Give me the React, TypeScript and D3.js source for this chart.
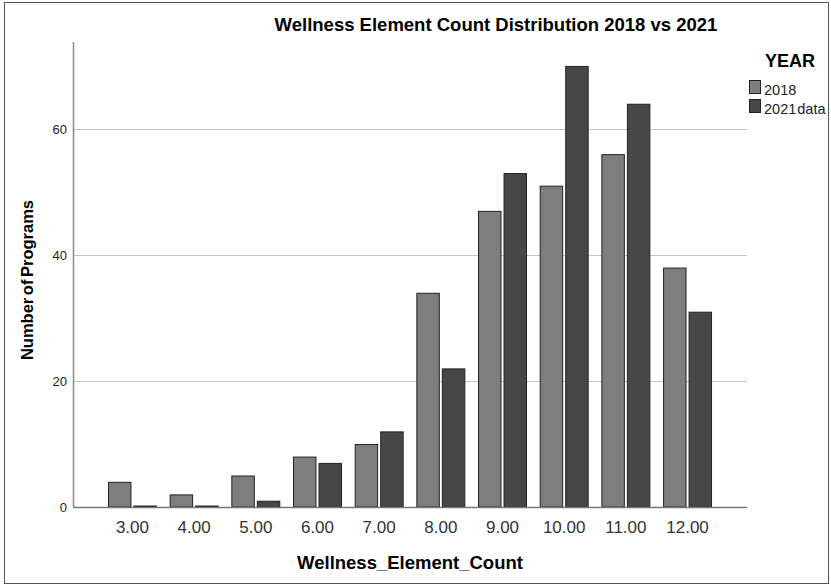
import React from "react";
import * as d3 from "d3";

const categories = ["3.00", "4.00", "5.00", "6.00", "7.00", "8.00", "9.00", "10.00", "11.00", "12.00"];
const series2018 = [4, 2, 5, 8, 10, 34, 47, 51, 56, 38];
const series2021 = [0, 0, 1, 7, 12, 22, 53, 70, 64, 31];
const seriesKeys = ["2018", "2021 data"];
const seriesColors = ["#7e7e7e", "#474747"];
const yTicks = [0, 20, 40, 60];

const W = 831;
const H = 586;
const left = 73;
const right = 747;
const top = 42;
const bottom = 507;

export default function App() {
  const x0 = d3.scaleBand<string>().domain(categories).range([left, right]).paddingInner(0.206).paddingOuter(0.567);
  const x1 = d3.scaleBand<string>().domain(seriesKeys).range([0, x0.bandwidth()]).paddingInner(0.08);
  const y = d3.scaleLinear().domain([0, 73.8]).range([bottom, top]);
  const font = "'Liberation Sans', Arial, sans-serif";
  const values = [series2018, series2021];

  return (
    <svg width={W} height={H} style={{ position: "absolute", left: 0, top: 0, background: "#fff" }} fontFamily={font}>
      <rect x={4.5} y={2.5} width={824} height={581} fill="none" stroke="#555" strokeWidth={1} />
      <text x={496} y={31} textAnchor="middle" fontSize={18.5} fontWeight="bold" fill="#000">
        Wellness Element Count Distribution 2018 vs 2021
      </text>
      {yTicks.filter((t) => t > 0).map((t) => (
        <line key={t} x1={left} x2={right} y1={Math.round(y(t)) + 0.5} y2={Math.round(y(t)) + 0.5} stroke="#c4c4c4" strokeWidth={1} />
      ))}
      {yTicks.map((t) => (
        <text key={t} x={67} y={y(t) + 5} textAnchor="end" fontSize={13} fill="#222">
          {t}
        </text>
      ))}
      {categories.map((c, i) => (
        <g key={c} transform={`translate(${x0(c)},0)`}>
          {seriesKeys.map((k, j) => {
            const v = values[j][i];
            const h = Math.max(1, bottom - y(v) - 0.5);
            return (
              <rect
                key={k}
                x={(x1(k) as number) + 0.5}
                y={bottom - h}
                width={x1.bandwidth() - 1}
                height={h}
                fill={seriesColors[j]}
                stroke="#222"
                strokeWidth={1}
              />
            );
          })}
        </g>
      ))}
      <line x1={left + 0.5} x2={left + 0.5} y1={top} y2={bottom} stroke="#8a8a8a" strokeWidth={1.5} />
      <line x1={left} x2={right} y1={bottom + 0.5} y2={bottom + 0.5} stroke="#777" strokeWidth={1.5} />
      {categories.map((c) => (
        <text key={c} x={(x0(c) as number) + x0.bandwidth() / 2} y={533} textAnchor="middle" fontSize={17} fill="#333">
          {c}
        </text>
      ))}
      <text x={410} y={569} textAnchor="middle" fontSize={18.5} fontWeight="bold" fill="#000">
        Wellness_Element_Count
      </text>
      <text transform="translate(33,280) rotate(-90)" textAnchor="middle" fontSize={16.5} fontWeight="bold" fill="#000" wordSpacing={-2}>
        Number of Programs
      </text>
      <text x={765} y={67} fontSize={18} fontWeight="bold" fill="#000">
        YEAR
      </text>
      {seriesKeys.map((k, j) => (
        <g key={k}>
          <rect x={749.5} y={80.5 + j * 19} width={11} height={13} fill={seriesColors[j]} stroke="#222" strokeWidth={1} />
          <text x={764} y={95 + j * 19} fontSize={14.5} fill="#222" wordSpacing={-3}>
            {k}
          </text>
        </g>
      ))}
    </svg>
  );
}
